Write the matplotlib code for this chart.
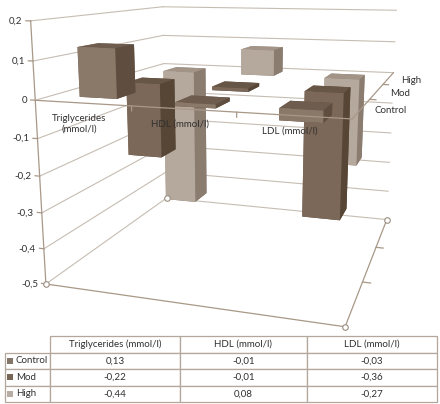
import numpy as np
import matplotlib
matplotlib.use('Agg')
import matplotlib.pyplot as plt
from matplotlib.patches import Rectangle
from mpl_toolkits.mplot3d import proj3d

# ---------------- data ----------------
categories = ['Triglycerides (mmol/l)', 'HDL (mmol/l)', 'LDL (mmol/l)']
chart_cat_labels = ['Triglycerides\n(mmol/l)', 'HDL (mmol/l)', 'LDL (mmol/l)']
series = ['Control', 'Mod', 'High']
control = [0.13, -0.01, -0.03]
mod = [-0.22, -0.01, -0.36]
high = [-0.44, 0.08, -0.27]
zticks = [0.2, 0.1, 0.0, -0.1, -0.2, -0.3, -0.4, -0.5]

values = [control, mod, high]

# styles: front, side, top, key
face_cols = {
    'Control': ('#8a7869', '#5f4e40', '#6e5d4f', '#85766a'),
    'Mod':     ('#7b6858', '#574636', '#675545', '#776656'),
    'High':    ('#b5a89c', '#8b7c70', '#a29487', '#b8ada3'),
}
grid_col = '#c6bdb3'
axis_col = '#a89888'
txt_col = '#303030'

plt.rcParams['font.family'] = ['Lato', 'DejaVu Sans']

fig = plt.figure(figsize=(4.40, 4.04), dpi=100)
renderer = fig.canvas.get_renderer()


def text_w(s, size):
    t = fig.text(0, 0, s, fontsize=size)
    wpx = t.get_window_extent(renderer).width
    t.remove()
    return wpx


# pick a font size whose widths match the reference's text widths (pixels)
samples = [('Triglycerides (mmol/l)', 99), ('Control', 30), ('0,13', 15),
           ('HDL (mmol/l)', 58), ('-0,5', 18), ('LDL (mmol/l)', 57)]
FS = 10 * sum(p for _, p in samples) / sum(text_w(s, 10) for s, _ in samples)

ax = fig.add_axes([0.0159, 0.0978, 1.0136, 1.104], projection='3d')
ax.set_proj_type('persp', focal_length=0.31)
ax.view_init(elev=12.3, azim=-72.1)
ax.set_box_aspect((1.0, 1.02, 0.867), zoom=1.0)
ax.set_axis_off()
ax.computed_zorder = False

nx, ny = len(categories), len(series)
zmin, zmax = min(zticks), max(zticks)
ax.set_xlim(0, nx)
ax.set_ylim(0, ny)
ax.set_zlim(zmin, zmax)

# walls grid (left wall x=0, back wall y=ny)
for zt in zticks:
    ax.plot([0, 0], [0, ny], [zt, zt], color=grid_col, lw=0.8, zorder=1)
    ax.plot([0, nx], [ny, ny], [zt, zt], color=grid_col, lw=0.8, zorder=1)
# floor edges
ax.plot([0, nx], [0, 0], [zmin, zmin], color=axis_col, lw=0.9, zorder=1)
ax.plot([nx, nx], [0, ny], [zmin, zmin], color=axis_col, lw=0.9, zorder=1)
for j in range(1, ny):
    ax.plot([nx, nx + 0.08], [j, j], [zmin, zmin], color=axis_col, lw=0.9, zorder=1)

# bars
w, d = 0.4, 0.4
xs, ys, zs, dxs, dys, dzs, cols = [], [], [], [], [], [], []
for j, s in enumerate(series):
    front, side, top, _ = face_cols[s]
    for i, v in enumerate(values[j]):
        xs.append(i + (1 - w) / 2)
        ys.append(j + (1 - d) / 2)
        zs.append(min(0, v))
        dxs.append(w)
        dys.append(d)
        dzs.append(abs(v))
        # face order: -z, +z, -y, +y, -x, +x
        cols += [side, top, front, side, front, side]
ax.bar3d(xs, ys, zs, dxs, dys, dzs, color=cols, shade=False, zorder=3,
         edgecolor='none', linewidth=0)

# axes on top
ax.plot([0, 0], [0, 0], [zmin, zmax], color=axis_col, lw=0.9, zorder=5)
ax.plot([0, nx], [0, 0], [0, 0], color=axis_col, lw=0.9, zorder=5)
ax.plot([nx, nx], [0, ny], [0, 0], color=axis_col, lw=0.9, zorder=5)
for zt in zticks:
    ax.plot([0, -0.05], [0, 0], [zt, zt], color=axis_col, lw=0.9, zorder=5)
for i in range(1, nx):
    ax.plot([i, i], [0, 0], [0, -0.012], color=axis_col, lw=0.9, zorder=5)
for j in range(1, ny):
    ax.plot([nx, nx + 0.06], [j, j], [0, 0], color=axis_col, lw=0.9, zorder=5)

# corner handles
for (cx, cy, cz) in [(0, 0, zmin), (0, ny, zmin), (nx, ny, zmin), (nx, 0, zmin)]:
    ax.plot([cx], [cy], [cz], marker='o', ms=4, mfc='white', mec='#9a8c80',
            mew=0.8, zorder=7)

# texts: project 3D anchor points through the axes' projection, then place 2D text
fig.canvas.draw()
M = ax.get_proj()


def place(x, y, z, s, dx=0, dy=0, **kw):
    px, py, _ = proj3d.proj_transform(x, y, z, M)
    X, Y = ax.transData.transform((px, py))
    fx, fy = fig.transFigure.inverted().transform((X + dx, Y - dy))
    fig.text(fx, fy, s, color=txt_col, fontsize=FS, **kw)


for zt in zticks:
    place(0, 0, zt, ('%g' % zt).replace('.', ','), dx=-8, ha='right', va='center')
for i, lab in enumerate(chart_cat_labels):
    place(i + 0.5, 0, 0, lab, dx=-3, dy=11, ha='center', va='top',
          linespacing=1.15)
for j, s in enumerate(series):
    place(nx, j + 0.5, 0, s, dx=13, dy=2, ha='left', va='center')

# ---------------- table ----------------
tax = fig.add_axes([5 / 440, 2 / 404, 432 / 440, 66 / 404])
tax.set_axis_off()
fmt = lambda v: ('%.2f' % v).replace('.', ',')
cell_text = [[''] + categories]
for j, s in enumerate(series):
    cell_text.append([s] + [fmt(v) for v in values[j]])
col_w = [45, 130, 127, 130]
tbl = tax.table(cellText=cell_text, colWidths=[c / sum(col_w) for c in col_w],
                bbox=[0, 0, 1, 1], cellLoc='center')
tbl.auto_set_font_size(False)
for (r, c), cell in tbl.get_celld().items():
    cell.set_edgecolor('#b3a79c')
    cell.set_linewidth(0.9)
    cell.get_text().set_fontsize(FS)
    cell.get_text().set_color(txt_col)
    if r == 0 and c == 0:
        cell.visible_edges = ''
    if c == 0 and r > 0:
        cell.get_text().set_ha('left')
        cell._loc = 'left'
        cell.PAD = 0.24
tax.set_xlim(0, 1)
tax.set_ylim(0, 1)
nrow = len(series) + 1
for j, s in enumerate(series):
    yc = 1 - (j + 1.5) / nrow
    tax.add_patch(Rectangle((1.5 / 432, yc - 3 / 66), 6.5 / 432, 6 / 66,
                            facecolor=face_cols[s][3], edgecolor='none',
                            transform=tax.transAxes))

fig.savefig('out.png', dpi=100)
